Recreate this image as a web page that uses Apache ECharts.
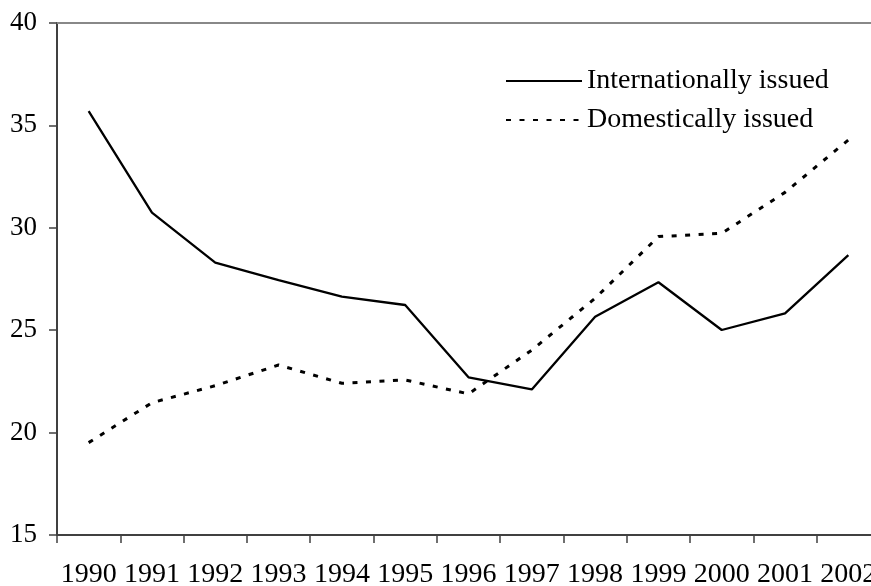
<!DOCTYPE html>
<html>
<head>
<meta charset="utf-8">
<script src="https://cdn.jsdelivr.net/npm/echarts@6/dist/echarts.min.js"></script>
<style>
html,body{margin:0;padding:0;background:#fff;}
#chart{width:871px;height:586px;}
</style>
</head>
<body>
<div id="chart"></div>
<script>
var years = ['1990','1991','1992','1993','1994','1995','1996','1997','1998','1999','2000','2001','2002'];
var internationallyIssued = [35.70, 30.74, 28.30, 27.45, 26.64, 26.23, 22.70, 22.11, 25.66, 27.34, 25.01, 25.82, 28.67];
var domesticallyIssued = [19.51, 21.46, 22.29, 23.30, 22.41, 22.57, 21.89, 24.03, 26.56, 29.57, 29.73, 31.73, 34.29];
var yTicks = [15, 20, 25, 30, 35, 40];

var FONT = '"Liberation Serif", "Times New Roman", serif';
var chart = echarts.init(document.getElementById('chart'), null, {renderer: 'canvas'});
chart.setOption({
  animation: false,
  backgroundColor: '#ffffff',
  grid: {left: 57, top: 23, width: 823, height: 512, containLabel: false, outerBoundsMode: 'none'},
  legend: {
    orient: 'vertical',
    left: 505,
    top: 67,
    padding: 0,
    itemWidth: 76,
    itemHeight: 14,
    itemGap: 11,
    selectedMode: false,
    itemStyle: {opacity: 0},
    textStyle: {fontFamily: FONT, fontSize: 28, color: '#000'},
    data: ['Internationally issued', 'Domestically issued']
  },
  xAxis: [{
    type: 'category',
    data: years,
    boundaryGap: true,
    axisLine: {show: true, lineStyle: {color: '#404040', width: 2}},
    axisTick: {show: true, inside: false, length: 8, alignWithLabel: false, interval: 0, lineStyle: {color: '#404040', width: 1.5}},
    axisLabel: {interval: 0, margin: 26, color: '#000', fontFamily: FONT, fontSize: 28},
    splitLine: {show: false}
  }, {
    type: 'category',
    data: years,
    position: 'top',
    axisLine: {show: true, lineStyle: {color: '#888888', width: 2}},
    axisTick: {show: false},
    axisLabel: {show: false},
    splitLine: {show: false}
  }],
  yAxis: {
    type: 'value',
    min: yTicks[0],
    max: yTicks[yTicks.length - 1],
    interval: 5,
    axisLine: {show: true, lineStyle: {color: '#404040', width: 2}},
    axisTick: {show: true, inside: false, length: 8, lineStyle: {color: '#404040', width: 1.5}},
    axisLabel: {margin: 20, color: '#000', fontFamily: FONT, fontSize: 27},
    splitLine: {show: false}
  },
  series: [{
    name: 'Internationally issued',
    type: 'line',
    data: internationallyIssued,
    symbol: 'none',
    lineStyle: {color: '#000', width: 2.3, type: 'solid'},
    itemStyle: {color: '#000'}
  }, {
    name: 'Domestically issued',
    type: 'line',
    data: domesticallyIssued,
    symbol: 'none',
    lineStyle: {color: '#000', width: 3, type: [5, 8.5]},
    itemStyle: {color: '#000'}
  }]
});
</script>
</body>
</html>
